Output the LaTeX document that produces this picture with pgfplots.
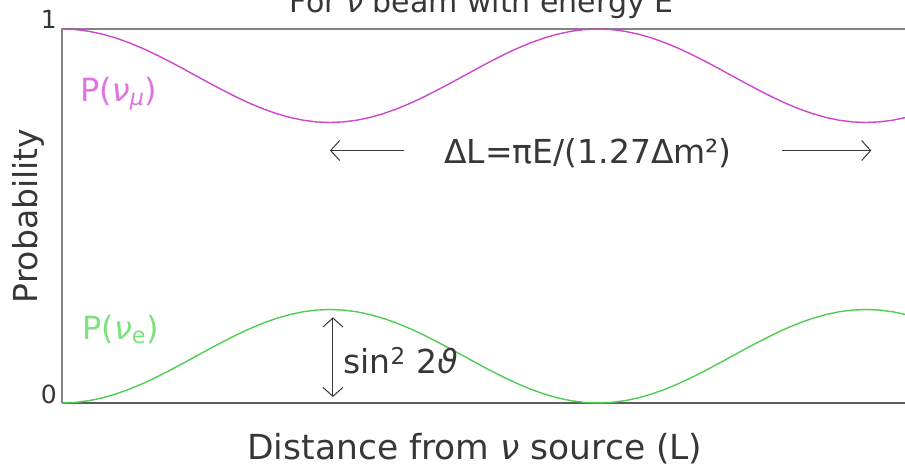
\documentclass[border=0pt]{standalone}
\usepackage{fontspec}
\setmainfont{DejaVu Sans}
\usepackage{pgfplots}
\pgfplotsset{compat=1.18}
\usepackage{pgfplotstable}
\usetikzlibrary{arrows.meta}

\definecolor{mucurve}{RGB}{205,70,205}
\definecolor{mutext}{RGB}{225,115,225}
\definecolor{ecurve}{RGB}{80,205,80}
\definecolor{etext}{RGB}{125,225,125}
\definecolor{ink}{RGB}{55,55,55}
\definecolor{frame}{RGB}{130,130,130}

\newcommand{\nuit}{\textit{ν}}

% Oscillation probabilities along the baseline (x in units of half periods)
\pgfplotstableread{
x    pe      pmu
0.00 0.00000 1.00000
0.05 0.00154 0.99846
0.10 0.00612 0.99388
0.15 0.01362 0.98638
0.20 0.02387 0.97613
0.25 0.03661 0.96339
0.30 0.05153 0.94847
0.35 0.06825 0.93175
0.40 0.08637 0.91363
0.45 0.10545 0.89455
0.50 0.12500 0.87500
0.55 0.14455 0.85545
0.60 0.16363 0.83637
0.65 0.18175 0.81825
0.70 0.19847 0.80153
0.75 0.21339 0.78661
0.80 0.22613 0.77387
0.85 0.23638 0.76362
0.90 0.24388 0.75612
0.95 0.24846 0.75154
1.00 0.25000 0.75000
1.05 0.24846 0.75154
1.10 0.24388 0.75612
1.15 0.23638 0.76362
1.20 0.22613 0.77387
1.25 0.21339 0.78661
1.30 0.19847 0.80153
1.35 0.18175 0.81825
1.40 0.16363 0.83637
1.45 0.14455 0.85545
1.50 0.12500 0.87500
1.55 0.10545 0.89455
1.60 0.08637 0.91363
1.65 0.06825 0.93175
1.70 0.05153 0.94847
1.75 0.03661 0.96339
1.80 0.02387 0.97613
1.85 0.01362 0.98638
1.90 0.00612 0.99388
1.95 0.00154 0.99846
2.00 0.00000 1.00000
2.05 0.00154 0.99846
2.10 0.00612 0.99388
2.15 0.01362 0.98638
2.20 0.02387 0.97613
2.25 0.03661 0.96339
2.30 0.05153 0.94847
2.35 0.06825 0.93175
2.40 0.08637 0.91363
2.45 0.10545 0.89455
2.50 0.12500 0.87500
2.55 0.14455 0.85545
2.60 0.16363 0.83637
2.65 0.18175 0.81825
2.70 0.19847 0.80153
2.75 0.21339 0.78661
2.80 0.22613 0.77387
2.85 0.23638 0.76362
2.90 0.24388 0.75612
2.95 0.24846 0.75154
3.00 0.25000 0.75000
3.05 0.24846 0.75154
3.10 0.24388 0.75612
3.15 0.23638 0.76362
}\osc

\begin{document}
\begin{tikzpicture}
\path[use as bounding box, clip] (-62pt,-63pt) rectangle (843pt,403pt);
\begin{axis}[
  at={(0pt,0pt)}, anchor=south west,
  scale only axis, width=846pt, height=374pt,
  xmin=0, xmax=3.157, ymin=0, ymax=1,
  xtick=\empty, ytick={0,1},
  major tick length=0pt,
  axis line style={draw=none},
  clip=false,
  /pgf/number format/assume math mode=true,
  yticklabel style={font=\fontsize{25}{30}\selectfont, anchor=base east,
    inner sep=0pt, xshift=-5pt, text=ink},
  ylabel={Probability},
  ylabel style={at={(axis description cs:-0.0402,0.5)}, anchor=center,
    font=\fontsize{33}{40}\selectfont, text=ink},
  xlabel={Distance from \nuit{} source (L)},
  xlabel style={at={(axis description cs:0.488,-0.150)}, anchor=base,
    font=\fontsize{34.5}{41}\selectfont, text=ink},
  title={For \nuit{} beam with energy E},
  title style={at={(axis description cs:0.496,1.029)}, anchor=base,
    font=\fontsize{30}{36}\selectfont, text=ink},
]
% frame: left, top and bottom edges
\draw[frame, line width=1.2pt] (rel axis cs:1,1) -- (rel axis cs:0,1) -- (rel axis cs:0,0);
\draw[ink!80, line width=1.6pt] (rel axis cs:0,0) -- (rel axis cs:1,0);

\addplot[mucurve, line width=1.4pt] table[x=x, y=pmu] {\osc};
\addplot[ecurve, line width=1.4pt] table[x=x, y=pe] {\osc};

\node[anchor=base west, text=mutext, font=\fontsize{32}{38}\selectfont, inner sep=0pt]
  at (axis cs:0.067,0.805) {P(\nuit\textsubscript{\textit{μ}})};
\node[anchor=base west, text=etext, font=\fontsize{32}{38}\selectfont, inner sep=0pt]
  at (axis cs:0.075,0.171) {P(\nuit\textsubscript{e})};

% oscillation length
\draw[ink, line width=1pt, -{Straight Barb[length=9pt,width=20pt]}]
  (axis cs:1.276,0.675) -- (axis cs:1.0,0.675);
\draw[ink, line width=1pt, -{Straight Barb[length=9pt,width=20pt]}]
  (axis cs:2.687,0.675) -- (axis cs:3.02,0.675);
\node[anchor=base, text=ink, font=\fontsize{33}{40}\selectfont, inner sep=0pt]
  at (axis cs:1.963,0.64) {ΔL=πE/(1.27Δm²)};

% amplitude
\draw[ink, line width=1pt, {Straight Barb[length=9pt,width=20pt]}-{Straight Barb[length=9pt,width=20pt]}]
  (axis cs:1.011,0.016) -- (axis cs:1.011,0.229);
\node[anchor=base west, text=ink, font=\fontsize{33}{40}\selectfont, inner sep=0pt]
  at (axis cs:1.049,0.08) {sin\textsuperscript{2} 2\textit{ϑ}};
\end{axis}
\end{tikzpicture}
\end{document}
